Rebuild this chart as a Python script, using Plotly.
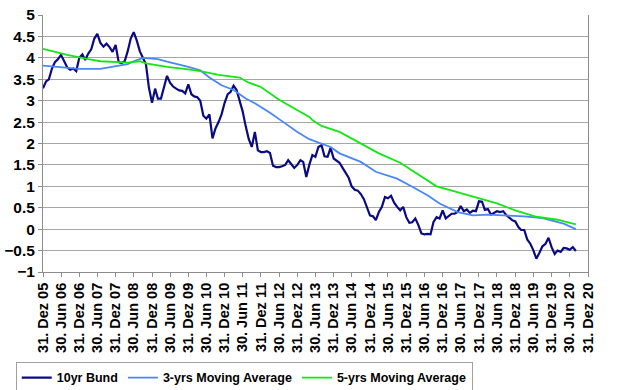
import pandas as pd
import plotly.graph_objects as go

# ---- data ----
bund_start = "2005-12-31"   # first monthly observation (month ends)
bund_10yr = [
    3.29, 3.45, 3.50, 3.75, 3.90, 3.97, 4.07, 3.93, 3.78, 3.72, 3.75, 3.69,
    4.00, 4.08, 3.95, 4.10, 4.20, 4.45, 4.56, 4.35, 4.26, 4.33, 4.25, 4.14,
    4.30, 3.90, 3.88, 3.92, 4.15, 4.45, 4.60, 4.40, 4.15, 4.00, 3.85, 3.30,
    2.95, 3.28, 3.05, 3.05, 3.30, 3.58, 3.42, 3.33, 3.28, 3.24, 3.23, 3.17,
    3.38, 3.15, 3.10, 3.08, 3.00, 2.65, 2.58, 2.68, 2.12, 2.35, 2.50, 2.68,
    2.95, 3.15, 3.20, 3.35, 3.25, 3.00, 2.75, 2.40, 2.10, 1.92, 2.27, 1.84,
    1.80, 1.80, 1.82, 1.78, 1.48, 1.45, 1.45, 1.47, 1.50, 1.61, 1.52, 1.43,
    1.50, 1.61, 1.57, 1.22, 1.50, 1.73, 1.69, 1.92, 1.96, 1.70, 1.69, 1.90,
    1.65, 1.60, 1.55, 1.43, 1.32, 1.20, 1.00, 0.92, 0.90, 0.82, 0.70, 0.50,
    0.32, 0.30, 0.21, 0.40, 0.52, 0.75, 0.72, 0.78, 0.62, 0.52, 0.44, 0.52,
    0.28, 0.15, 0.16, 0.25, 0.10, -0.10, -0.12, -0.11, -0.12, 0.17, 0.28, 0.25,
    0.44, 0.25, 0.30, 0.36, 0.36, 0.40, 0.54, 0.42, 0.46, 0.38, 0.43, 0.42,
    0.65, 0.64, 0.45, 0.47, 0.34, 0.38, 0.42, 0.40, 0.42, 0.33, 0.27, 0.21,
    0.18, 0.05, -0.02, -0.02, -0.24, -0.34, -0.49, -0.69, -0.55, -0.40, -0.34, -0.20,
    -0.42, -0.58, -0.50, -0.53, -0.44, -0.45, -0.48, -0.42, -0.51,
]

ma3_months = [
    "2005-12", "2006-04", "2006-12", "2007-07", "2007-11", "2008-04", "2008-06",
    "2008-09", "2009-02", "2009-05", "2009-12", "2010-04", "2010-07", "2010-11",
    "2011-03", "2011-07", "2011-10", "2012-02", "2012-03", "2012-08", "2012-12",
    "2013-04", "2013-11", "2014-02", "2014-09", "2015-02", "2015-09", "2016-02",
    "2016-07", "2016-11", "2017-05", "2017-10", "2018-03", "2018-08", "2019-03",
    "2019-09", "2020-04", "2020-08",
]
ma3_values = [
    3.82, 3.79, 3.74, 3.74, 3.79, 3.85, 3.92,
    4.00, 3.97, 3.91, 3.79, 3.71, 3.54, 3.36,
    3.25, 3.05, 2.94, 2.78, 2.72, 2.47, 2.27,
    2.10, 1.92, 1.77, 1.57, 1.34, 1.18, 0.99,
    0.79, 0.60, 0.40, 0.32, 0.34, 0.32, 0.30,
    0.26, 0.13, 0.00,
]

ma5_months = [
    "2005-12", "2006-08", "2007-03", "2007-07", "2008-04", "2008-08", "2008-10",
    "2009-05", "2009-12", "2010-04", "2010-10", "2011-05", "2011-08", "2011-12",
    "2012-06", "2013-04", "2013-05", "2013-08", "2014-02", "2014-08", "2014-10",
    "2015-03", "2015-10", "2016-06", "2016-10", "2017-04", "2017-12", "2018-06",
    "2018-12", "2019-07", "2020-02", "2020-08",
]
ma5_values = [
    4.21, 4.07, 3.97, 3.92, 3.89, 3.92, 3.87,
    3.79, 3.73, 3.69, 3.60, 3.54, 3.42, 3.32,
    3.02, 2.62, 2.55, 2.41, 2.27, 2.04, 1.96,
    1.77, 1.55, 1.18, 1.00, 0.88, 0.72, 0.60,
    0.44, 0.29, 0.22, 0.11,
]

tick_dates = pd.date_range("2005-12-31", "2020-12-31", freq="6ME")
month_de = {6: "Jun", 12: "Dez"}
tick_labels = [f"{d.day}. {month_de[d.month]} {d.strftime('%y')}" for d in tick_dates]

# ---- build figure ----
bund_dates = pd.date_range(bund_start, periods=len(bund_10yr), freq="ME")
ma3_dates = pd.to_datetime(ma3_months) + pd.offsets.MonthEnd(0)
ma5_dates = pd.to_datetime(ma5_months) + pd.offsets.MonthEnd(0)

FONT = "Liberation Sans, Arial, sans-serif"

fig = go.Figure()
fig.add_trace(go.Scatter(x=bund_dates, y=bund_10yr, mode="lines", name="10yr Bund",
                         line=dict(color="#0A0A82", width=2.2)))
fig.add_trace(go.Scatter(x=ma3_dates, y=ma3_values, mode="lines", name="3-yrs Moving Average",
                         line=dict(color="#4A86F7", width=1.8)))
fig.add_trace(go.Scatter(x=ma5_dates, y=ma5_values, mode="lines", name="5-yrs Moving Average",
                         line=dict(color="#14E614", width=1.8)))

fig.update_layout(
    width=641, height=390,
    margin=dict(l=43, r=53, t=15, b=118, autoexpand=False),
    paper_bgcolor="white", plot_bgcolor="white",
    font=dict(family=FONT, color="black"),
    showlegend=True,
    legend=dict(orientation="h", x=-0.05, xanchor="left",
                y=-0.35, yanchor="top",
                bordercolor="#A0A0A0", borderwidth=1, bgcolor="white",
                font=dict(family=FONT, size=12.5, color="black", weight="bold"),
                itemwidth=30, tracegroupgap=0),
)
fig.update_xaxes(
    range=[tick_dates[0], tick_dates[-1]], automargin=False,
    tickmode="array", tickvals=tick_dates, ticktext=tick_labels,
    tickangle=-90, tickfont=dict(family=FONT, size=14.5, color="black", weight="bold"),
    showgrid=False, showline=True, linecolor="#8C8C8C", linewidth=1,
    ticks="outside", ticklen=4, tickcolor="#8C8C8C", zeroline=False,
)
fig.update_yaxes(
    range=[-1, 5], dtick=0.5, tick0=0, automargin=False,
    tickfont=dict(family=FONT, size=15.5, color="black", weight="bold"),
    showgrid=True, gridcolor="#A6A6A6", gridwidth=1,
    showline=True, linecolor="#8C8C8C", linewidth=1, mirror=True,
    ticks="outside", ticklen=4, tickcolor="#8C8C8C", zeroline=False,
)

fig.write_html("out.html", config={"displayModeBar": False},
               post_script="document.body.style.margin='0';")
